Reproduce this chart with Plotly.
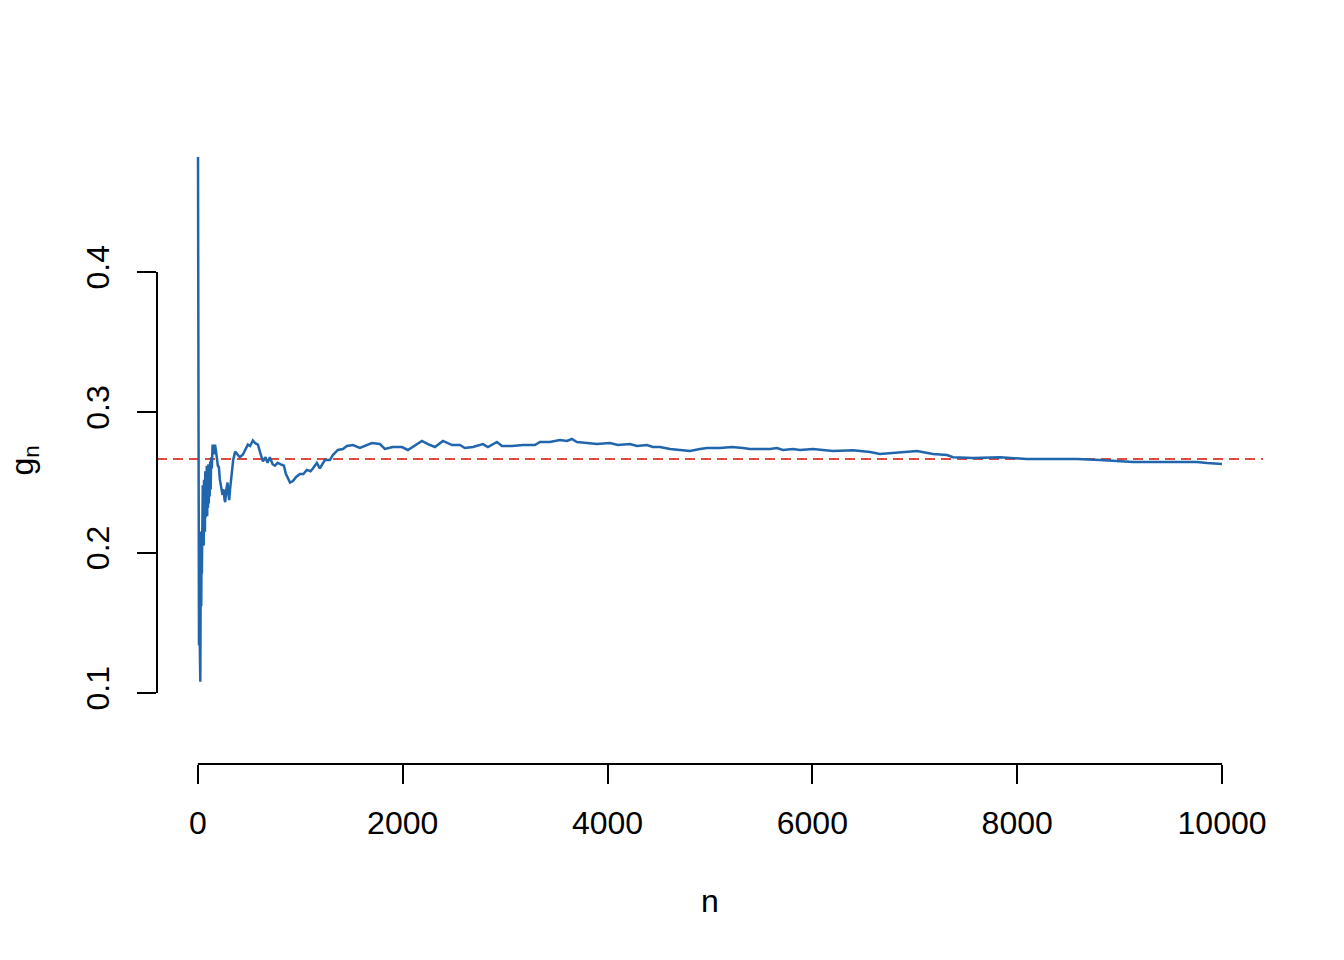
import plotly.graph_objects as go

# Running estimate g_n
n_vals = [1, 3, 5, 8, 11, 14, 17, 20, 24, 27, 30, 33, 36, 39, 42, 45, 48, 51, 54, 57,
          60, 63, 66, 69, 72, 75, 79, 83, 87, 91, 95, 99, 103, 107, 111, 115, 120, 125,
          130, 136, 144, 150, 156, 162, 168, 176, 185, 195, 205, 215, 225, 234, 241, 248,
          254, 260, 267, 278, 290, 298, 306, 314, 322, 334, 345, 364, 410, 440, 488, 510,
          537, 560, 586, 610, 635, 660, 680, 703, 730, 752, 780, 810, 840, 860, 879, 900,
          928, 960, 996, 1030, 1064, 1100, 1123, 1162, 1191, 1240, 1289, 1318, 1367, 1416,
          1455, 1514, 1582, 1650, 1699, 1777, 1826, 1904, 1992, 2051, 2100, 2188, 2246,
          2315, 2393, 2481, 2559, 2607, 2686, 2783, 2832, 2920, 2969, 3066, 3174, 3291,
          3340, 3437, 3535, 3604, 3652, 3701, 3799, 3896, 4023, 4102, 4219, 4287, 4385,
          4443, 4512, 4610, 4707, 4805, 4902, 4971, 5098, 5215, 5322, 5391, 5489, 5586,
          5654, 5713, 5811, 5879, 6006, 6104, 6201, 6397, 6563, 6660, 6856, 7022, 7178,
          7315, 7373, 7569, 7832, 8096, 8350, 8584, 8809, 8975, 9131, 9463, 9756, 9854,
          10000]
g_vals = [0.50, 0.344, 0.427, 0.20, 0.134, 0.16, 0.123, 0.14, 0.108, 0.17, 0.215, 0.162,
          0.205, 0.185, 0.235, 0.19, 0.248, 0.21, 0.25, 0.205, 0.252, 0.22, 0.255, 0.215,
          0.258, 0.225, 0.255, 0.228, 0.262, 0.226, 0.26, 0.232, 0.263, 0.235, 0.262, 0.24,
          0.265, 0.245, 0.268, 0.26, 0.277, 0.272, 0.276, 0.27, 0.277, 0.274, 0.268, 0.262,
          0.261, 0.252, 0.247, 0.243, 0.241, 0.245, 0.244, 0.238, 0.236, 0.245, 0.25, 0.242,
          0.2375, 0.245, 0.25, 0.26, 0.266, 0.272, 0.268, 0.27, 0.277, 0.276, 0.280, 0.278,
          0.277, 0.271, 0.265, 0.268, 0.264, 0.268, 0.263, 0.262, 0.264, 0.263, 0.262, 0.256,
          0.253, 0.250, 0.251, 0.254, 0.256, 0.256, 0.259, 0.258, 0.260, 0.264, 0.260, 0.266,
          0.266, 0.2696, 0.2732, 0.2739, 0.2760, 0.2767, 0.2746, 0.2767, 0.2781, 0.2774,
          0.2739, 0.2753, 0.2753, 0.2732, 0.2753, 0.2796, 0.2774, 0.2753, 0.2796, 0.2767,
          0.2767, 0.2746, 0.2753, 0.2774, 0.2753, 0.2789, 0.2760, 0.2760, 0.2767, 0.2767,
          0.2789, 0.2789, 0.2803, 0.2796, 0.2810, 0.2789, 0.2781, 0.2774, 0.2781, 0.2767,
          0.2774, 0.2760, 0.2767, 0.2753, 0.2753, 0.2739, 0.2732, 0.2725, 0.2739, 0.2746,
          0.2746, 0.2753, 0.2746, 0.2739, 0.2739, 0.2739, 0.2746, 0.2732, 0.2739, 0.2732,
          0.2739, 0.2732, 0.2725, 0.273, 0.2717, 0.2703, 0.2717, 0.2725, 0.2703, 0.2696,
          0.268, 0.2675, 0.268, 0.2667, 0.2667, 0.2667, 0.266, 0.2653, 0.2646, 0.2646,
          0.2646, 0.2639, 0.2632]
ref_value = 4 / 15

x_ticks = [0, 2000, 4000, 6000, 8000, 10000]
x_ticklabels = ["0", "2000", "4000", "6000", "8000", "10000"]
y_ticks = [0.1, 0.2, 0.3, 0.4]
y_ticklabels = ["0.1", "0.2", "0.3", "0.4"]

x_range = [1 - 0.04 * 9999, 10000 + 0.04 * 9999]
y_range = [0.04941, 0.48196]

FONT = "Liberation Sans, Arial, sans-serif"
BLUE = "#2166AC"
RED = "#DE4A3F"

fig = go.Figure()
fig.add_trace(go.Scatter(x=x_range, y=[ref_value, ref_value], mode="lines",
                         line=dict(color=RED, width=2, dash="10px,6px"),
                         hoverinfo="skip", showlegend=False))
fig.add_trace(go.Scatter(x=n_vals, y=g_vals, mode="lines",
                         line=dict(color=BLUE, width=2.5), showlegend=False))

# R-style axis lines spanning only the ticks
fig.add_shape(type="line", xref="x", yref="paper", x0=x_ticks[0], x1=x_ticks[-1], y0=0, y1=0,
              line=dict(color="black", width=2))
fig.add_shape(type="line", xref="paper", yref="y", x0=0, x1=0, y0=y_ticks[0], y1=y_ticks[-1],
              line=dict(color="black", width=2))

fig.update_layout(
    width=1344, height=960,
    margin=dict(l=149, r=89, t=149, b=204),
    paper_bgcolor="white", plot_bgcolor="white",
    font=dict(family=FONT, size=32, color="black"),
    xaxis=dict(range=x_range, showgrid=False, zeroline=False, showline=False,
               automargin=False,
               tickmode="array", tickvals=x_ticks, ticktext=x_ticklabels,
               ticks="outside", ticklen=19, tickwidth=2, tickcolor="black",
               ticklabelstandoff=12),
    yaxis=dict(range=y_range, showgrid=False, zeroline=False, showline=False,
               automargin=False,
               tickmode="array", tickvals=y_ticks, ticktext=y_ticklabels,
               ticks="outside", ticklen=19, tickwidth=2, tickcolor="black",
               tickangle=-90, ticklabelstandoff=15),
    annotations=[
        dict(text="n", xref="paper", yref="paper", x=0.5, y=0, xanchor="center",
             yanchor="middle", yshift=-137, showarrow=False, font=dict(size=32)),
        dict(text="g<sub>n</sub>", xref="paper", yref="paper", x=0, y=0.5,
             xanchor="center", yanchor="middle", xshift=-133, textangle=-90,
             showarrow=False, font=dict(size=32)),
    ],
)

fig.write_html("out.html")
